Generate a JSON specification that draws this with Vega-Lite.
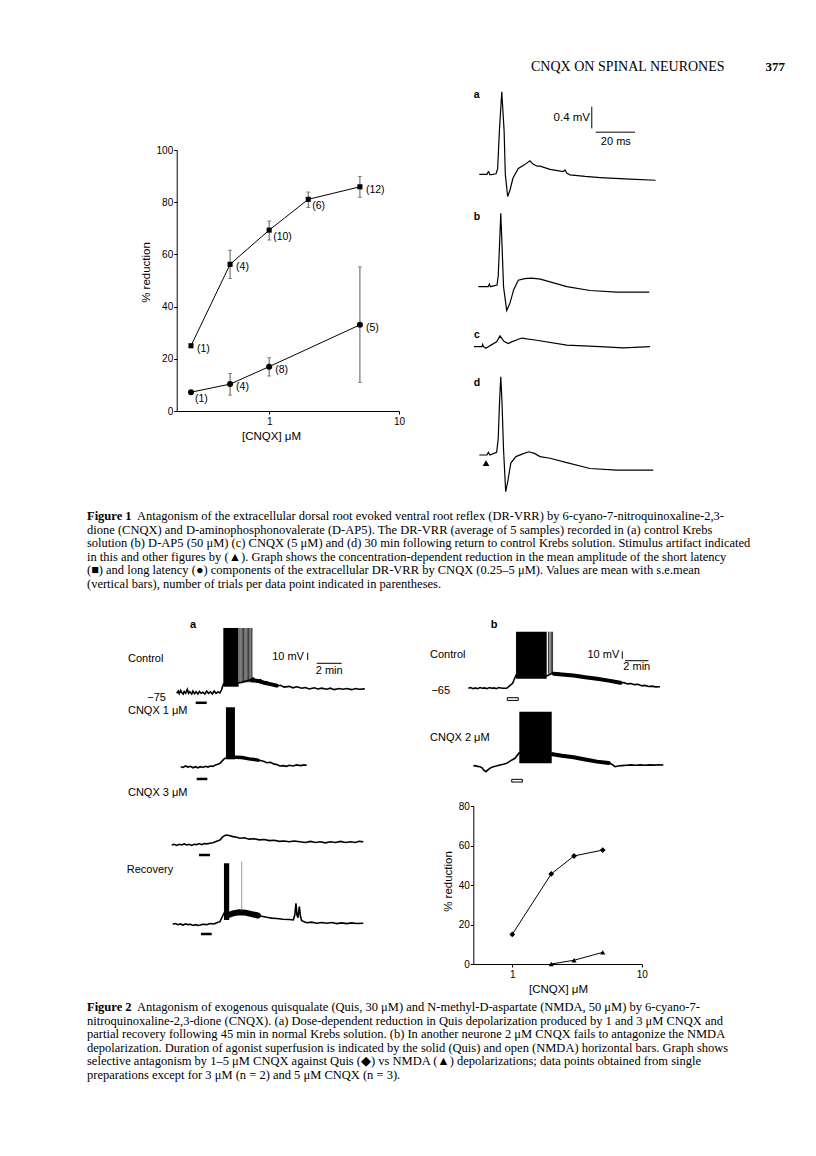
{
"$schema":"https://vega.github.io/schema/vega-lite/v6.json",
"width":816,"height":1156,"autosize":"none","padding":0,"background":"white",
"config":{"view":{"stroke":null},"axis":{"grid":false,"domainColor":"black","tickColor":"black","labelColor":"black","titleColor":"black","labelFont":"Liberation Sans","titleFont":"Liberation Sans","titleFontWeight":"normal","labelFontSize":10,"titleFontSize":11.5,"tickSize":3,"labelPadding":2},"text":{"font":"Liberation Sans","color":"black","baseline":"middle"}},
"datasets":{
"hdr":[{"part":"running","text":"CNQX ON SPINAL NEURONES"},{"part":"page","text":"377"}],
"f1":[
{"series":"short","conc":0.25,"pct":25,"lo":null,"hi":null,"n":"(1)"},
{"series":"short","conc":0.5,"pct":56.2,"lo":50.8,"hi":61.6,"n":"(4)"},
{"series":"short","conc":1,"pct":69.3,"lo":65.5,"hi":72.8,"n":"(10)"},
{"series":"short","conc":2,"pct":81.1,"lo":78,"hi":83.9,"n":"(6)"},
{"series":"short","conc":5,"pct":85.9,"lo":81.9,"hi":89.8,"n":"(12)"},
{"series":"long","conc":0.25,"pct":7.2,"lo":null,"hi":null,"n":"(1)"},
{"series":"long","conc":0.5,"pct":10.3,"lo":6.1,"hi":14.4,"n":"(4)"},
{"series":"long","conc":1,"pct":17,"lo":13.4,"hi":20.4,"n":"(8)"},
{"series":"long","conc":5,"pct":33,"lo":11,"hi":55.2,"n":"(5)"}],
"f2":[
{"series":"quis","conc":1,"pct":15},{"series":"quis","conc":2,"pct":45.6},{"series":"quis","conc":3,"pct":54.7},{"series":"quis","conc":5,"pct":57.7},
{"series":"nmda","conc":2,"pct":0},{"series":"nmda","conc":3,"pct":1.9},{"series":"nmda","conc":5,"pct":5.9}],
"f1tr":[
{"trace":"a","t":0,"v":0},{"trace":"a","t":3.9,"v":0},{"trace":"a","t":4.6,"v":0.05},{"trace":"a","t":4.9,"v":0.04},{"trace":"a","t":5.4,"v":-0.01},{"trace":"a","t":8.5,"v":0.01},{"trace":"a","t":9.3,"v":0.1},{"trace":"a","t":10.2,"v":0.8},{"trace":"a","t":11.4,"v":1.53},{"trace":"a","t":12.6,"v":0.8},{"trace":"a","t":13.2,"v":0.0},{"trace":"a","t":14.4,"v":-0.41},{"trace":"a","t":15.6,"v":-0.29},{"trace":"a","t":17.1,"v":-0.07},{"trace":"a","t":19.8,"v":0.11},{"trace":"a","t":22.7,"v":0.17},{"trace":"a","t":25.7,"v":0.25},{"trace":"a","t":27.2,"v":0.19},{"trace":"a","t":29.4,"v":0.15},{"trace":"a","t":30.8,"v":0.15},{"trace":"a","t":35.9,"v":0.09},{"trace":"a","t":42.6,"v":0.05},{"trace":"a","t":43.5,"v":0.08},{"trace":"a","t":44.5,"v":0.02},{"trace":"a","t":46,"v":-0.01},{"trace":"a","t":53.7,"v":-0.04},{"trace":"a","t":61.3,"v":-0.06},{"trace":"a","t":76.5,"v":-0.09},{"trace":"a","t":89.5,"v":-0.11},
{"trace":"b","t":-0.5,"v":0},{"trace":"b","t":4.5,"v":0},{"trace":"b","t":5.1,"v":0.05},{"trace":"b","t":5.6,"v":0},{"trace":"b","t":9.0,"v":0.03},{"trace":"b","t":9.6,"v":0.2},{"trace":"b","t":10.3,"v":0.8},{"trace":"b","t":10.9,"v":1.36},{"trace":"b","t":11.5,"v":0.8},{"trace":"b","t":12.3,"v":0},{"trace":"b","t":13.9,"v":-0.44},{"trace":"b","t":15.6,"v":-0.3},{"trace":"b","t":17.5,"v":-0.05},{"trace":"b","t":19.8,"v":0.12},{"trace":"b","t":23,"v":0.15},{"trace":"b","t":26.6,"v":0.16},{"trace":"b","t":31,"v":0.14},{"trace":"b","t":35.9,"v":0.09},{"trace":"b","t":44.4,"v":0},{"trace":"b","t":56.2,"v":-0.07},{"trace":"b","t":69.7,"v":-0.1},{"trace":"b","t":86.3,"v":-0.1},
{"trace":"c","t":-2.7,"v":0},{"trace":"c","t":1.4,"v":0},{"trace":"c","t":1.7,"v":0.04},{"trace":"c","t":2.1,"v":0},{"trace":"c","t":3.4,"v":-0.03},{"trace":"c","t":5.5,"v":0.02},{"trace":"c","t":8.8,"v":0.09},{"trace":"c","t":10.5,"v":0.2},{"trace":"c","t":12.5,"v":0.1},{"trace":"c","t":14.7,"v":0.06},{"trace":"c","t":16.4,"v":0.09},{"trace":"c","t":21.5,"v":0.16},{"trace":"c","t":29.1,"v":0.12},{"trace":"c","t":44.4,"v":0.03},{"trace":"c","t":61.3,"v":0},{"trace":"c","t":73.1,"v":-0.02},{"trace":"c","t":86.6,"v":0},
{"trace":"d","t":0,"v":0},{"trace":"d","t":3.9,"v":0},{"trace":"d","t":4.6,"v":0.05},{"trace":"d","t":4.9,"v":0.03},{"trace":"d","t":5.4,"v":0},{"trace":"d","t":8.8,"v":0.05},{"trace":"d","t":9.6,"v":0.3},{"trace":"d","t":10.3,"v":1.0},{"trace":"d","t":10.9,"v":1.45},{"trace":"d","t":11.5,"v":1.0},{"trace":"d","t":12.3,"v":0.1},{"trace":"d","t":13.4,"v":-0.68},{"trace":"d","t":14.4,"v":-0.5},{"trace":"d","t":16,"v":-0.15},{"trace":"d","t":18.6,"v":-0.03},{"trace":"d","t":22,"v":0.02},{"trace":"d","t":25.1,"v":0.06},{"trace":"d","t":28,"v":0.03},{"trace":"d","t":30.8,"v":-0.03},{"trace":"d","t":35.9,"v":-0.06},{"trace":"d","t":44.4,"v":-0.14},{"trace":"d","t":56.2,"v":-0.25},{"trace":"d","t":69.7,"v":-0.28},{"trace":"d","t":88.3,"v":-0.28}],
"f1lab":[
{"trace":"a","role":"panel","t":-1.3,"v":1.47,"text":"a"},{"trace":"b","role":"panel","t":-1.2,"v":1.3,"text":"b"},{"trace":"c","role":"panel","t":-1.2,"v":0.22,"text":"c"},{"trace":"d","role":"panel","t":-1.2,"v":1.33,"text":"d"},
{"trace":"a","role":"scaleV","t":56.2,"v":1.04,"text":"0.4 mV"},{"trace":"a","role":"scaleT","t":69.3,"v":0.6,"text":"20 ms"}],
"f1sb":[{"trace":"a","t1":57.1,"t2":57.1,"v1":0.85,"v2":1.25},{"trace":"a","t1":59.1,"t2":79.0,"v1":0.78,"v2":0.78}],
"f1art":[{"trace":"d","t":3.4,"v":-0.15}],
"cap1":[
{"line":1,"part":"head","text":"Figure 1"},
{"line":1,"part":"body","text":"Antagonism of the extracellular dorsal root evoked ventral root reflex (DR-VRR) by 6-cyano-7-nitroquinoxaline-2,3-"},
{"line":2,"part":"body","text":"dione (CNQX) and D-aminophosphonovalerate (D-AP5). The DR-VRR (average of 5 samples) recorded in (a) control Krebs"},
{"line":3,"part":"body","text":"solution (b) D-AP5 (50 μM) (c) CNQX (5 μM) and (d) 30 min following return to control Krebs solution. Stimulus artifact indicated"},
{"line":4,"part":"body","text":"in this and other figures by (▲). Graph shows the concentration-dependent reduction in the mean amplitude of the short latency"},
{"line":5,"part":"body","text":"(■) and long latency (●) components of the extracellular DR-VRR by CNQX (0.25–5 μM). Values are mean with s.e.mean"},
{"line":6,"part":"body","text":"(vertical bars), number of trials per data point indicated in parentheses."}],
"cap2":[
{"line":1,"part":"head","text":"Figure 2"},
{"line":1,"part":"body","text":"Antagonism of exogenous quisqualate (Quis, 30 μM) and N-methyl-D-aspartate (NMDA, 50 μM) by 6-cyano-7-"},
{"line":2,"part":"body","text":"nitroquinoxaline-2,3-dione (CNQX). (a) Dose-dependent reduction in Quis depolarization produced by 1 and 3 μM CNQX and"},
{"line":3,"part":"body","text":"partial recovery following 45 min in normal Krebs solution. (b) In another neurone 2 μM CNQX fails to antagonize the NMDA"},
{"line":4,"part":"body","text":"depolarization. Duration of agonist superfusion is indicated by the solid (Quis) and open (NMDA) horizontal bars. Graph shows"},
{"line":5,"part":"body","text":"selective antagonism by 1–5 μM CNQX against Quis (◆) vs NMDA (▲) depolarizations; data points obtained from single"},
{"line":6,"part":"body","text":"preparations except for 3 μM (n = 2) and 5 μM CNQX (n = 3)."}],
"f2tr":[
{"trace":"ctrlA","t":0,"v":-75},{"trace":"ctrlA","t":0.12,"v":-72},{"trace":"ctrlA","t":0.2,"v":-75.5},{"trace":"ctrlA","t":0.32,"v":-71},{"trace":"ctrlA","t":0.4,"v":-74},{"trace":"ctrlA","t":0.52,"v":-76},{"trace":"ctrlA","t":0.6,"v":-72.5},{"trace":"ctrlA","t":0.72,"v":-75},{"trace":"ctrlA","t":0.85,"v":-69.5},{"trace":"ctrlA","t":0.95,"v":-75},{"trace":"ctrlA","t":1.05,"v":-73},{"trace":"ctrlA","t":1.2,"v":-76},{"trace":"ctrlA","t":1.3,"v":-72},{"trace":"ctrlA","t":1.42,"v":-75.5},{"trace":"ctrlA","t":1.55,"v":-73},{"trace":"ctrlA","t":1.7,"v":-76},{"trace":"ctrlA","t":1.82,"v":-72.5},{"trace":"ctrlA","t":1.95,"v":-75},{"trace":"ctrlA","t":2.1,"v":-73.5},{"trace":"ctrlA","t":2.25,"v":-76},{"trace":"ctrlA","t":2.4,"v":-72},{"trace":"ctrlA","t":2.55,"v":-75},{"trace":"ctrlA","t":2.7,"v":-73},{"trace":"ctrlA","t":2.85,"v":-76},{"trace":"ctrlA","t":3.0,"v":-72},{"trace":"ctrlA","t":3.15,"v":-75},{"trace":"ctrlA","t":3.3,"v":-73},{"trace":"ctrlA","t":3.45,"v":-74.5},{"trace":"ctrlA","t":3.58,"v":-70.5},{"trace":"ctrlA","t":3.7,"v":-64},{"trace":"ctrlA","t":3.75,"v":-62},{"trace":"ctrlA","t":4.5,"v":-62},{"trace":"ctrlA","t":5.2,"v":-60},{"trace":"ctrlA","t":5.6,"v":-58},{"trace":"ctrlA","t":6.0,"v":-56},{"trace":"ctrlA","t":6.1,"v":-54},{"trace":"ctrlA","t":6.3,"v":-57},{"trace":"ctrlA","t":6.5,"v":-58},{"trace":"ctrlA","t":6.7,"v":-56.5},{"trace":"ctrlA","t":7.0,"v":-61},{"trace":"ctrlA","t":7.2,"v":-59.5},{"trace":"ctrlA","t":7.5,"v":-63.5},{"trace":"ctrlA","t":7.8,"v":-62},{"trace":"ctrlA","t":8.0,"v":-65},{"trace":"ctrlA","t":8.3,"v":-64},{"trace":"ctrlA","t":8.6,"v":-66.5},{"trace":"ctrlA","t":9.0,"v":-65.5},{"trace":"ctrlA","t":9.3,"v":-67.5},{"trace":"ctrlA","t":9.6,"v":-66},{"trace":"ctrlA","t":10.0,"v":-68},{"trace":"ctrlA","t":10.3,"v":-67},{"trace":"ctrlA","t":10.6,"v":-69},{"trace":"ctrlA","t":11.0,"v":-67.5},{"trace":"ctrlA","t":11.3,"v":-69},{"trace":"ctrlA","t":11.6,"v":-68},{"trace":"ctrlA","t":12.0,"v":-69.5},{"trace":"ctrlA","t":12.3,"v":-68},{"trace":"ctrlA","t":12.6,"v":-70},{"trace":"ctrlA","t":13.0,"v":-68.5},{"trace":"ctrlA","t":13.3,"v":-69.5},{"trace":"ctrlA","t":13.6,"v":-68.5},{"trace":"ctrlA","t":14.0,"v":-70},{"trace":"ctrlA","t":14.3,"v":-68.5},{"trace":"ctrlA","t":14.6,"v":-69.5},{"trace":"ctrlA","t":15.05,"v":-69},
{"trace":"cnqx1","t":0.32,"v":-75},{"trace":"cnqx1","t":0.5,"v":-76},{"trace":"cnqx1","t":0.7,"v":-74},{"trace":"cnqx1","t":0.9,"v":-75.5},{"trace":"cnqx1","t":1.1,"v":-74.5},{"trace":"cnqx1","t":1.3,"v":-76.5},{"trace":"cnqx1","t":1.5,"v":-75},{"trace":"cnqx1","t":1.7,"v":-76.5},{"trace":"cnqx1","t":1.9,"v":-75},{"trace":"cnqx1","t":2.1,"v":-76},{"trace":"cnqx1","t":2.3,"v":-74.5},{"trace":"cnqx1","t":2.5,"v":-75.5},{"trace":"cnqx1","t":2.7,"v":-74},{"trace":"cnqx1","t":2.9,"v":-74.5},{"trace":"cnqx1","t":3.1,"v":-72.5},{"trace":"cnqx1","t":3.3,"v":-71.5},{"trace":"cnqx1","t":3.46,"v":-70.3},{"trace":"cnqx1","t":3.7,"v":-66},{"trace":"cnqx1","t":3.86,"v":-63.4},{"trace":"cnqx1","t":4.2,"v":-63},{"trace":"cnqx1","t":4.66,"v":-62},{"trace":"cnqx1","t":4.8,"v":-61.3},{"trace":"cnqx1","t":5.0,"v":-62.5},{"trace":"cnqx1","t":5.3,"v":-61.5},{"trace":"cnqx1","t":5.6,"v":-63.5},{"trace":"cnqx1","t":5.86,"v":-64.9},{"trace":"cnqx1","t":6.1,"v":-64},{"trace":"cnqx1","t":6.4,"v":-66},{"trace":"cnqx1","t":6.7,"v":-66.5},{"trace":"cnqx1","t":7.0,"v":-68},{"trace":"cnqx1","t":7.2,"v":-69.5},{"trace":"cnqx1","t":7.5,"v":-69},{"trace":"cnqx1","t":7.8,"v":-71.5},{"trace":"cnqx1","t":8.0,"v":-72},{"trace":"cnqx1","t":8.26,"v":-74},{"trace":"cnqx1","t":8.5,"v":-73.5},{"trace":"cnqx1","t":8.8,"v":-74.5},{"trace":"cnqx1","t":9.0,"v":-73},{"trace":"cnqx1","t":9.3,"v":-74},{"trace":"cnqx1","t":9.6,"v":-72.5},{"trace":"cnqx1","t":9.9,"v":-73.5},{"trace":"cnqx1","t":10.2,"v":-72.5},{"trace":"cnqx1","t":10.4,"v":-73},
{"trace":"cnqx3","t":-0.4,"v":-75},{"trace":"cnqx3","t":-0.2,"v":-74},{"trace":"cnqx3","t":0,"v":-75.5},{"trace":"cnqx3","t":0.2,"v":-74},{"trace":"cnqx3","t":0.4,"v":-75},{"trace":"cnqx3","t":0.6,"v":-73.5},{"trace":"cnqx3","t":0.8,"v":-75},{"trace":"cnqx3","t":1.0,"v":-74},{"trace":"cnqx3","t":1.2,"v":-75.5},{"trace":"cnqx3","t":1.4,"v":-74},{"trace":"cnqx3","t":1.6,"v":-74.5},{"trace":"cnqx3","t":1.8,"v":-73},{"trace":"cnqx3","t":2.0,"v":-74.5},{"trace":"cnqx3","t":2.2,"v":-73},{"trace":"cnqx3","t":2.4,"v":-73.5},{"trace":"cnqx3","t":2.66,"v":-72.7},{"trace":"cnqx3","t":2.9,"v":-72},{"trace":"cnqx3","t":3.2,"v":-70},{"trace":"cnqx3","t":3.46,"v":-68.2},{"trace":"cnqx3","t":3.7,"v":-63.5},{"trace":"cnqx3","t":3.94,"v":-61.3},{"trace":"cnqx3","t":4.2,"v":-62},{"trace":"cnqx3","t":4.5,"v":-63.5},{"trace":"cnqx3","t":4.8,"v":-64.5},{"trace":"cnqx3","t":5.06,"v":-65.8},{"trace":"cnqx3","t":5.4,"v":-65},{"trace":"cnqx3","t":5.8,"v":-67},{"trace":"cnqx3","t":6.2,"v":-66.5},{"trace":"cnqx3","t":6.6,"v":-68},{"trace":"cnqx3","t":7.0,"v":-67.5},{"trace":"cnqx3","t":7.4,"v":-69},{"trace":"cnqx3","t":7.8,"v":-68.5},{"trace":"cnqx3","t":8.2,"v":-70},{"trace":"cnqx3","t":8.6,"v":-69.5},{"trace":"cnqx3","t":9.0,"v":-70.5},{"trace":"cnqx3","t":9.4,"v":-69.5},{"trace":"cnqx3","t":9.86,"v":-70.5},{"trace":"cnqx3","t":10.3,"v":-71.5},{"trace":"cnqx3","t":10.7,"v":-70},{"trace":"cnqx3","t":11.1,"v":-71.5},{"trace":"cnqx3","t":11.5,"v":-70.5},{"trace":"cnqx3","t":11.9,"v":-72},{"trace":"cnqx3","t":12.3,"v":-70.5},{"trace":"cnqx3","t":12.7,"v":-71.5},{"trace":"cnqx3","t":13.1,"v":-70},{"trace":"cnqx3","t":13.5,"v":-71.5},{"trace":"cnqx3","t":13.9,"v":-70.5},{"trace":"cnqx3","t":14.3,"v":-71.5},{"trace":"cnqx3","t":14.6,"v":-70},{"trace":"cnqx3","t":14.93,"v":-70.5},
{"trace":"recov","t":-0.32,"v":-75},{"trace":"recov","t":-0.1,"v":-74},{"trace":"recov","t":0.1,"v":-75.5},{"trace":"recov","t":0.3,"v":-74.5},{"trace":"recov","t":0.5,"v":-76},{"trace":"recov","t":0.7,"v":-74.5},{"trace":"recov","t":0.9,"v":-75.5},{"trace":"recov","t":1.1,"v":-75},{"trace":"recov","t":1.3,"v":-76.5},{"trace":"recov","t":1.5,"v":-75.5},{"trace":"recov","t":1.7,"v":-76.5},{"trace":"recov","t":1.86,"v":-76},{"trace":"recov","t":2.1,"v":-75},{"trace":"recov","t":2.4,"v":-75.5},{"trace":"recov","t":2.7,"v":-74},{"trace":"recov","t":3.0,"v":-74.5},{"trace":"recov","t":3.2,"v":-73},{"trace":"recov","t":3.46,"v":-71.4},{"trace":"recov","t":3.78,"v":-59.9},{"trace":"recov","t":4.0,"v":-62},{"trace":"recov","t":4.2,"v":-64},{"trace":"recov","t":4.53,"v":-59.9},{"trace":"recov","t":4.8,"v":-58.5},{"trace":"recov","t":5.0,"v":-57.5},{"trace":"recov","t":5.33,"v":-57.7},{"trace":"recov","t":5.6,"v":-59},{"trace":"recov","t":6.0,"v":-60.5},{"trace":"recov","t":6.4,"v":-62.3},{"trace":"recov","t":6.8,"v":-64},{"trace":"recov","t":7.2,"v":-65.4},{"trace":"recov","t":7.6,"v":-66.5},{"trace":"recov","t":8.0,"v":-67},{"trace":"recov","t":8.5,"v":-68},{"trace":"recov","t":9.0,"v":-68.5},{"trace":"recov","t":9.33,"v":-69.1},{"trace":"recov","t":9.45,"v":-62},{"trace":"recov","t":9.54,"v":-46.2},{"trace":"recov","t":9.62,"v":-62},{"trace":"recov","t":9.7,"v":-66},{"trace":"recov","t":9.81,"v":-50.9},{"trace":"recov","t":9.9,"v":-64},{"trace":"recov","t":10.0,"v":-70},{"trace":"recov","t":10.4,"v":-72.8},{"trace":"recov","t":10.8,"v":-72},{"trace":"recov","t":11.2,"v":-73.5},{"trace":"recov","t":11.6,"v":-72.5},{"trace":"recov","t":12.0,"v":-73.5},{"trace":"recov","t":12.4,"v":-72.5},{"trace":"recov","t":12.8,"v":-74},{"trace":"recov","t":13.2,"v":-73},{"trace":"recov","t":13.6,"v":-74},{"trace":"recov","t":14.0,"v":-73},{"trace":"recov","t":14.4,"v":-74},{"trace":"recov","t":14.93,"v":-73.6},
{"trace":"ctrlB","t":0,"v":-65},{"trace":"ctrlB","t":0.2,"v":-64},{"trace":"ctrlB","t":0.4,"v":-65.5},{"trace":"ctrlB","t":0.6,"v":-64.5},{"trace":"ctrlB","t":0.8,"v":-65.5},{"trace":"ctrlB","t":1.0,"v":-64},{"trace":"ctrlB","t":1.2,"v":-65},{"trace":"ctrlB","t":1.4,"v":-64.5},{"trace":"ctrlB","t":1.6,"v":-65.5},{"trace":"ctrlB","t":1.8,"v":-64},{"trace":"ctrlB","t":2.0,"v":-65},{"trace":"ctrlB","t":2.2,"v":-64.5},{"trace":"ctrlB","t":2.4,"v":-65.5},{"trace":"ctrlB","t":2.6,"v":-64},{"trace":"ctrlB","t":2.8,"v":-64.5},{"trace":"ctrlB","t":3.0,"v":-65},{"trace":"ctrlB","t":3.28,"v":-65},{"trace":"ctrlB","t":3.5,"v":-62},{"trace":"ctrlB","t":3.79,"v":-58.2},{"trace":"ctrlB","t":4.08,"v":-46.8},{"trace":"ctrlB","t":6.7,"v":-48},{"trace":"ctrlB","t":7.26,"v":-43.6},{"trace":"ctrlB","t":7.5,"v":-46},{"trace":"ctrlB","t":7.8,"v":-44.5},{"trace":"ctrlB","t":8.1,"v":-47},{"trace":"ctrlB","t":8.4,"v":-45.5},{"trace":"ctrlB","t":8.7,"v":-48},{"trace":"ctrlB","t":9.0,"v":-46.5},{"trace":"ctrlB","t":9.3,"v":-49},{"trace":"ctrlB","t":9.6,"v":-47.5},{"trace":"ctrlB","t":9.83,"v":-49.1},{"trace":"ctrlB","t":10.1,"v":-50.5},{"trace":"ctrlB","t":10.4,"v":-49.5},{"trace":"ctrlB","t":10.7,"v":-52},{"trace":"ctrlB","t":11.0,"v":-51},{"trace":"ctrlB","t":11.3,"v":-53.5},{"trace":"ctrlB","t":11.6,"v":-52.5},{"trace":"ctrlB","t":11.9,"v":-55},{"trace":"ctrlB","t":12.2,"v":-54},{"trace":"ctrlB","t":12.5,"v":-56.5},{"trace":"ctrlB","t":12.68,"v":-56},{"trace":"ctrlB","t":13.0,"v":-57.5},{"trace":"ctrlB","t":13.3,"v":-57},{"trace":"ctrlB","t":13.6,"v":-59},{"trace":"ctrlB","t":13.9,"v":-58.5},{"trace":"ctrlB","t":14.2,"v":-60},{"trace":"ctrlB","t":14.5,"v":-59.5},{"trace":"ctrlB","t":14.8,"v":-61.5},{"trace":"ctrlB","t":15.1,"v":-61},{"trace":"ctrlB","t":15.4,"v":-62.5},{"trace":"ctrlB","t":15.7,"v":-62},{"trace":"ctrlB","t":16.0,"v":-63},{"trace":"ctrlB","t":16.38,"v":-62.8},
{"trace":"cnqx2","t":0.43,"v":-65},{"trace":"cnqx2","t":0.6,"v":-64.5},{"trace":"cnqx2","t":0.8,"v":-65.5},{"trace":"cnqx2","t":1.0,"v":-65.9},{"trace":"cnqx2","t":1.2,"v":-68},{"trace":"cnqx2","t":1.35,"v":-71},{"trace":"cnqx2","t":1.51,"v":-72.8},{"trace":"cnqx2","t":1.7,"v":-70},{"trace":"cnqx2","t":1.9,"v":-67.5},{"trace":"cnqx2","t":2.14,"v":-65.9},{"trace":"cnqx2","t":2.4,"v":-65},{"trace":"cnqx2","t":2.7,"v":-63.5},{"trace":"cnqx2","t":3.0,"v":-62.5},{"trace":"cnqx2","t":3.28,"v":-61.3},{"trace":"cnqx2","t":3.6,"v":-58},{"trace":"cnqx2","t":3.99,"v":-54.4},{"trace":"cnqx2","t":4.36,"v":-46.7},{"trace":"cnqx2","t":7.13,"v":-50},{"trace":"cnqx2","t":7.26,"v":-47.6},{"trace":"cnqx2","t":7.5,"v":-50},{"trace":"cnqx2","t":7.8,"v":-49.5},{"trace":"cnqx2","t":8.1,"v":-51.5},{"trace":"cnqx2","t":8.41,"v":-51.3},{"trace":"cnqx2","t":8.7,"v":-53},{"trace":"cnqx2","t":9.0,"v":-52.5},{"trace":"cnqx2","t":9.3,"v":-54.5},{"trace":"cnqx2","t":9.6,"v":-54},{"trace":"cnqx2","t":9.9,"v":-56},{"trace":"cnqx2","t":10.12,"v":-56.8},{"trace":"cnqx2","t":10.4,"v":-57.5},{"trace":"cnqx2","t":10.7,"v":-58.5},{"trace":"cnqx2","t":11.0,"v":-59},{"trace":"cnqx2","t":11.3,"v":-59.5},{"trace":"cnqx2","t":11.6,"v":-60.5},{"trace":"cnqx2","t":11.9,"v":-61},{"trace":"cnqx2","t":12.1,"v":-61.3},{"trace":"cnqx2","t":12.3,"v":-63},{"trace":"cnqx2","t":12.54,"v":-65.9},{"trace":"cnqx2","t":12.8,"v":-65},{"trace":"cnqx2","t":13.1,"v":-64.5},{"trace":"cnqx2","t":13.5,"v":-64},{"trace":"cnqx2","t":13.9,"v":-63.5},{"trace":"cnqx2","t":14.3,"v":-64},{"trace":"cnqx2","t":14.7,"v":-63.5},{"trace":"cnqx2","t":15.1,"v":-64},{"trace":"cnqx2","t":15.5,"v":-63.5},{"trace":"cnqx2","t":15.9,"v":-63.8},{"trace":"cnqx2","t":16.3,"v":-63.2},{"trace":"cnqx2","t":16.67,"v":-63.6}],
"f2thick":[
{"trace":"ctrlA","t":6.0,"v":-57},{"trace":"ctrlA","t":6.5,"v":-58},{"trace":"ctrlA","t":7.0,"v":-60.5},{"trace":"ctrlA","t":7.5,"v":-62.5},{"trace":"ctrlA","t":8.0,"v":-64.5},
{"trace":"cnqx1","t":4.7,"v":-62},{"trace":"cnqx1","t":5.2,"v":-62.3},{"trace":"cnqx1","t":5.8,"v":-64.3},{"trace":"cnqx1","t":6.5,"v":-66},
{"trace":"recov","t":4.2,"v":-62},{"trace":"recov","t":4.5,"v":-60},{"trace":"recov","t":5.0,"v":-58.5},{"trace":"recov","t":5.5,"v":-59},{"trace":"recov","t":6.0,"v":-61},{"trace":"recov","t":6.5,"v":-63},
{"trace":"ctrlB","t":7.3,"v":-45},{"trace":"ctrlB","t":8,"v":-46},{"trace":"ctrlB","t":9,"v":-47.5},{"trace":"ctrlB","t":10,"v":-50},{"trace":"ctrlB","t":11,"v":-52},{"trace":"ctrlB","t":12,"v":-54.5},{"trace":"ctrlB","t":13,"v":-57.5},
{"trace":"cnqx2","t":7.2,"v":-49},{"trace":"cnqx2","t":8,"v":-51},{"trace":"cnqx2","t":9,"v":-53},{"trace":"cnqx2","t":10,"v":-56},{"trace":"cnqx2","t":11,"v":-59},{"trace":"cnqx2","t":12,"v":-61}],
"f2burst":[
{"trace":"ctrlA","t1":3.73,"t2":4.95,"v1":-66,"v2":14.5},
{"trace":"cnqx1","t1":3.94,"t2":4.66,"v1":-64.9,"v2":6.4},
{"trace":"recov","t1":3.78,"t2":4.2,"v1":-69.1,"v2":8.6},
{"trace":"ctrlB","t1":4.08,"t2":6.7,"v1":-52,"v2":12.5},
{"trace":"cnqx2","t1":4.36,"t2":7.13,"v1":-61.3,"v2":9.4}],
"f2spk":[
{"trace":"ctrlA","t":5.05,"v1":-60,"v2":14.5},{"trace":"ctrlA","t":5.15,"v1":-60,"v2":14.5},{"trace":"ctrlA","t":5.25,"v1":-60,"v2":14.5},{"trace":"ctrlA","t":5.35,"v1":-60,"v2":14.5},{"trace":"ctrlA","t":5.45,"v1":-60,"v2":14.5},{"trace":"ctrlA","t":5.55,"v1":-60,"v2":14.5},{"trace":"ctrlA","t":5.65,"v1":-60,"v2":14.5},{"trace":"ctrlA","t":5.75,"v1":-60,"v2":14.5},{"trace":"ctrlA","t":5.85,"v1":-60,"v2":14.5},{"trace":"ctrlA","t":5.95,"v1":-60,"v2":14.5},{"trace":"ctrlA","t":6.02,"v1":-60,"v2":14.5},
{"trace":"recov","t":5.2,"v1":-57,"v2":10.8},
{"trace":"ctrlB","t":6.85,"v1":-45,"v2":12.5},{"trace":"ctrlB","t":6.98,"v1":-45,"v2":12.5},{"trace":"ctrlB","t":7.1,"v1":-45,"v2":12.5},{"trace":"ctrlB","t":7.2,"v1":-45,"v2":12.5}],
"f2bar":[
{"trace":"ctrlA","t1":1.52,"t2":2.4,"v":-88},{"trace":"cnqx1","t1":1.6,"t2":2.45,"v":-91.8},{"trace":"cnqx3","t1":1.78,"t2":2.66,"v":-88.7},{"trace":"recov","t1":1.94,"t2":2.8,"v":-88.3}],
"f2open":[
{"trace":"ctrlB","t1":3.33,"t2":4.27,"v1":-77.9,"v2":-81.6},{"trace":"cnqx2","t1":3.71,"t2":4.62,"v1":-83.3,"v2":-87}],
"f2sb":[
{"trace":"ctrlA","t1":10.48,"t2":10.48,"v1":-29.4,"v2":-19.4},{"trace":"ctrlA","t1":11.2,"t2":13.2,"v1":-33.9,"v2":-33.9},
{"trace":"ctrlB","t1":13.16,"t2":13.16,"v1":-24.4,"v2":-14.4},{"trace":"ctrlB","t1":13.4,"t2":15.4,"v1":-27.2,"v2":-27.2}],
"f2lab":[
{"trace":"ctrlA","role":"name","t":-3.9,"v":-28,"text":"Control"},
{"trace":"ctrlA","role":"vm","t":-0.86,"v":-81.8,"text":"−75"},
{"trace":"ctrlA","role":"panel","t":1.3,"v":18.6,"text":"a"},
{"trace":"ctrlA","role":"scaleV","t":10.18,"v":-24.9,"text":"10 mV"},
{"trace":"ctrlA","role":"scaleT","t":12.2,"v":-44.5,"text":"2 min"},
{"trace":"cnqx1","role":"name","t":-3.9,"v":1.7,"text":"CNQX 1 μM"},
{"trace":"cnqx3","role":"name","t":-3.9,"v":-4.2,"text":"CNQX 3 μM"},
{"trace":"recov","role":"name","t":-4.0,"v":-0.6,"text":"Recovery"},
{"trace":"ctrlB","role":"name","t":-3.27,"v":-19.4,"text":"Control"},
{"trace":"ctrlB","role":"vm","t":-1.56,"v":-68.3,"text":"−65"},
{"trace":"ctrlB","role":"panel","t":2.2,"v":21.7,"text":"b"},
{"trace":"ctrlB","role":"scaleV","t":12.9,"v":-19.4,"text":"10 mV"},
{"trace":"ctrlB","role":"scaleT","t":14.4,"v":-36.2,"text":"2 min"},
{"trace":"cnqx2","role":"name","t":-3.27,"v":-27,"text":"CNQX 2 μM"}]
},
"layer":[
{"data":{"name":"hdr"},"layer":[
 {"transform":[{"filter":"datum.part==='running'"}],"mark":{"type":"text","align":"left","font":"Liberation Serif","fontSize":14},"encoding":{"x":{"datum":0,"type":"quantitative","scale":{"domain":[0,1],"range":[531,785]},"axis":null},"y":{"datum":0,"type":"quantitative","scale":{"domain":[0,1],"range":[67,1156]},"axis":null},"text":{"field":"text"}}},
 {"transform":[{"filter":"datum.part==='page'"}],"mark":{"type":"text","align":"right","font":"Liberation Serif","fontSize":13,"fontWeight":"bold"},"encoding":{"x":{"datum":1,"type":"quantitative","scale":{"domain":[0,1],"range":[531,785]},"axis":null},"y":{"datum":0,"type":"quantitative","scale":{"domain":[0,1],"range":[67,1156]},"axis":null},"text":{"field":"text"}}}
]},
{"data":{"name":"f1"},"layer":[
 {"transform":[{"filter":"isValid(datum.lo)"}],"mark":{"type":"errorbar","ticks":{"size":4},"thickness":0.8,"color":"#333"},"encoding":{
  "x":{"field":"conc","type":"quantitative","scale":{"type":"log","domain":[0.194,10],"range":[176.7,399],"nice":false},"axis":{"orient":"bottom","offset":-745,"values":[1,10],"format":"~g","labelFlush":false,"title":"[CNQX] μM","titleX":271,"titleY":25,"titleBaseline":"middle"}},
  "y":{"field":"lo","type":"quantitative","scale":{"domain":[0,100],"range":[411,150],"nice":false,"zero":false},"axis":{"orient":"left","offset":-176.7,"values":[0,20,40,60,80,100],"title":"% reduction","titleX":-30,"titleY":272,"titleBaseline":"middle","titleAngle":-90,"labelPadding":1}},
  "y2":{"field":"hi"}}},
 {"mark":{"type":"line","color":"black","strokeWidth":1},"encoding":{
  "x":{"field":"conc","type":"quantitative","scale":{"type":"log","domain":[0.194,10],"range":[176.7,399],"nice":false},"axis":{"orient":"bottom","offset":-745,"values":[1,10],"format":"~g","labelFlush":false,"title":"[CNQX] μM","titleX":271,"titleY":25,"titleBaseline":"middle"}},
  "y":{"field":"pct","type":"quantitative","scale":{"domain":[0,100],"range":[411,150],"nice":false,"zero":false},"axis":{"orient":"left","offset":-176.7,"values":[0,20,40,60,80,100],"title":"% reduction","titleX":-30,"titleY":272,"titleBaseline":"middle","titleAngle":-90,"labelPadding":1}},
  "detail":{"field":"series"}}},
 {"transform":[{"filter":"datum.series==='short'"}],"mark":{"type":"point","shape":"square","filled":true,"color":"black","opacity":1,"size":26},"encoding":{
  "x":{"field":"conc","type":"quantitative","scale":{"type":"log","domain":[0.194,10],"range":[176.7,399],"nice":false}},
  "y":{"field":"pct","type":"quantitative","scale":{"domain":[0,100],"range":[411,150],"nice":false,"zero":false}}}},
 {"transform":[{"filter":"datum.series==='long'"}],"mark":{"type":"point","shape":"circle","filled":true,"color":"black","opacity":1,"size":36},"encoding":{
  "x":{"field":"conc","type":"quantitative","scale":{"type":"log","domain":[0.194,10],"range":[176.7,399],"nice":false}},
  "y":{"field":"pct","type":"quantitative","scale":{"domain":[0,100],"range":[411,150],"nice":false,"zero":false}}}},
 {"transform":[{"filter":"!((datum.series==='short' && (datum.conc===1 || datum.conc===2)) || (datum.series==='long' && datum.conc===0.25))"}],"mark":{"type":"text","align":"left","dx":6,"dy":3,"fontSize":10.5},"encoding":{
  "x":{"field":"conc","type":"quantitative","scale":{"type":"log","domain":[0.194,10],"range":[176.7,399],"nice":false}},
  "y":{"field":"pct","type":"quantitative","scale":{"domain":[0,100],"range":[411,150],"nice":false,"zero":false}},
  "text":{"field":"n"}}},
 {"transform":[{"filter":"(datum.series==='short' && (datum.conc===1 || datum.conc===2)) || (datum.series==='long' && datum.conc===0.25)"}],"mark":{"type":"text","align":"left","dx":4,"dy":7,"fontSize":10.5},"encoding":{
  "x":{"field":"conc","type":"quantitative","scale":{"type":"log","domain":[0.194,10],"range":[176.7,399],"nice":false}},
  "y":{"field":"pct","type":"quantitative","scale":{"domain":[0,100],"range":[411,150],"nice":false,"zero":false}},
  "text":{"field":"n"}}}
]},
{"layer":[
 {"data":{"name":"f1tr"},"transform":[{"filter":"datum.trace==='a'"}],"mark":{"type":"line","color":"black","strokeWidth":1.2},"encoding":{"x":{"field":"t","type":"quantitative","scale":{"domain":[0,100],"range":[479.3,676.3],"nice":false,"zero":false},"axis":null},"y":{"field":"v","type":"quantitative","scale":{"domain":[-1,2],"range":[228.3,66.3],"nice":false,"zero":false},"axis":null}}},
 {"data":{"name":"f1sb"},"mark":{"type":"rule","color":"black","strokeWidth":1},"encoding":{"x":{"field":"t1","type":"quantitative","scale":{"domain":[0,100],"range":[479.3,676.3],"nice":false,"zero":false},"axis":null},"x2":{"field":"t2"},"y":{"field":"v1","type":"quantitative","scale":{"domain":[-1,2],"range":[228.3,66.3],"nice":false,"zero":false},"axis":null},"y2":{"field":"v2"}}},
 {"data":{"name":"f1lab"},"transform":[{"filter":"datum.trace==='a' && datum.role==='panel'"}],"mark":{"type":"text","fontWeight":"bold","fontSize":10.5},"encoding":{"x":{"field":"t","type":"quantitative","scale":{"domain":[0,100],"range":[479.3,676.3],"nice":false,"zero":false},"axis":null},"y":{"field":"v","type":"quantitative","scale":{"domain":[-1,2],"range":[228.3,66.3],"nice":false,"zero":false},"axis":null},"text":{"field":"text"}}},
 {"data":{"name":"f1lab"},"transform":[{"filter":"datum.role==='scaleV'"}],"mark":{"type":"text","align":"right","fontSize":11.5},"encoding":{"x":{"field":"t","type":"quantitative","scale":{"domain":[0,100],"range":[479.3,676.3],"nice":false,"zero":false},"axis":null},"y":{"field":"v","type":"quantitative","scale":{"domain":[-1,2],"range":[228.3,66.3],"nice":false,"zero":false},"axis":null},"text":{"field":"text"}}},
 {"data":{"name":"f1lab"},"transform":[{"filter":"datum.role==='scaleT'"}],"mark":{"type":"text","fontSize":11},"encoding":{"x":{"field":"t","type":"quantitative","scale":{"domain":[0,100],"range":[479.3,676.3],"nice":false,"zero":false},"axis":null},"y":{"field":"v","type":"quantitative","scale":{"domain":[-1,2],"range":[228.3,66.3],"nice":false,"zero":false},"axis":null},"text":{"field":"text"}}}
]},
{"layer":[
 {"data":{"name":"f1tr"},"transform":[{"filter":"datum.trace==='b'"}],"mark":{"type":"line","color":"black","strokeWidth":1.2},"encoding":{"x":{"field":"t","type":"quantitative","scale":{"domain":[0,100],"range":[479.3,676.3],"nice":false,"zero":false},"axis":null},"y":{"field":"v","type":"quantitative","scale":{"domain":[-1,2],"range":[340.7,178.7],"nice":false,"zero":false},"axis":null}}},
 {"data":{"name":"f1lab"},"transform":[{"filter":"datum.trace==='b' && datum.role==='panel'"}],"mark":{"type":"text","fontWeight":"bold","fontSize":10.5},"encoding":{"x":{"field":"t","type":"quantitative","scale":{"domain":[0,100],"range":[479.3,676.3],"nice":false,"zero":false},"axis":null},"y":{"field":"v","type":"quantitative","scale":{"domain":[-1,2],"range":[340.7,178.7],"nice":false,"zero":false},"axis":null},"text":{"field":"text"}}}
]},
{"layer":[
 {"data":{"name":"f1tr"},"transform":[{"filter":"datum.trace==='c'"}],"mark":{"type":"line","color":"black","strokeWidth":1.2},"encoding":{"x":{"field":"t","type":"quantitative","scale":{"domain":[0,100],"range":[479.3,676.3],"nice":false,"zero":false},"axis":null},"y":{"field":"v","type":"quantitative","scale":{"domain":[-1,2],"range":[400.7,238.7],"nice":false,"zero":false},"axis":null}}},
 {"data":{"name":"f1lab"},"transform":[{"filter":"datum.trace==='c' && datum.role==='panel'"}],"mark":{"type":"text","fontWeight":"bold","fontSize":10.5},"encoding":{"x":{"field":"t","type":"quantitative","scale":{"domain":[0,100],"range":[479.3,676.3],"nice":false,"zero":false},"axis":null},"y":{"field":"v","type":"quantitative","scale":{"domain":[-1,2],"range":[400.7,238.7],"nice":false,"zero":false},"axis":null},"text":{"field":"text"}}}
]},
{"layer":[
 {"data":{"name":"f1tr"},"transform":[{"filter":"datum.trace==='d'"}],"mark":{"type":"line","color":"black","strokeWidth":1.2},"encoding":{"x":{"field":"t","type":"quantitative","scale":{"domain":[0,100],"range":[479.3,676.3],"nice":false,"zero":false},"axis":null},"y":{"field":"v","type":"quantitative","scale":{"domain":[-1,2],"range":[509,347],"nice":false,"zero":false},"axis":null}}},
 {"data":{"name":"f1art"},"mark":{"type":"point","shape":"triangle-up","filled":true,"color":"black","opacity":1,"size":45},"encoding":{"x":{"field":"t","type":"quantitative","scale":{"domain":[0,100],"range":[479.3,676.3],"nice":false,"zero":false},"axis":null},"y":{"field":"v","type":"quantitative","scale":{"domain":[-1,2],"range":[509,347],"nice":false,"zero":false},"axis":null}}},
 {"data":{"name":"f1lab"},"transform":[{"filter":"datum.trace==='d' && datum.role==='panel'"}],"mark":{"type":"text","fontWeight":"bold","fontSize":10.5},"encoding":{"x":{"field":"t","type":"quantitative","scale":{"domain":[0,100],"range":[479.3,676.3],"nice":false,"zero":false},"axis":null},"y":{"field":"v","type":"quantitative","scale":{"domain":[-1,2],"range":[509,347],"nice":false,"zero":false},"axis":null},"text":{"field":"text"}}}
]},
{"data":{"name":"cap1"},"layer":[
 {"transform":[{"filter":"datum.part==='head'"}],"mark":{"type":"text","align":"left","font":"Liberation Serif","fontSize":12.5,"fontWeight":"bold"},"encoding":{"x":{"datum":0,"type":"quantitative","scale":{"domain":[0,1],"range":[87,757]},"axis":null},"y":{"field":"line","type":"quantitative","scale":{"domain":[1,6],"range":[516,584],"nice":false,"zero":false},"axis":null},"text":{"field":"text"}}},
 {"transform":[{"filter":"datum.part==='body' && datum.line===1"}],"mark":{"type":"text","align":"left","font":"Liberation Serif","fontSize":12.5,"dx":50},"encoding":{"x":{"datum":0,"type":"quantitative","scale":{"domain":[0,1],"range":[87,757]},"axis":null},"y":{"field":"line","type":"quantitative","scale":{"domain":[1,6],"range":[516,584],"nice":false,"zero":false},"axis":null},"text":{"field":"text"}}},
 {"transform":[{"filter":"datum.part==='body' && datum.line>1"}],"mark":{"type":"text","align":"left","font":"Liberation Serif","fontSize":12.5},"encoding":{"x":{"datum":0,"type":"quantitative","scale":{"domain":[0,1],"range":[87,757]},"axis":null},"y":{"field":"line","type":"quantitative","scale":{"domain":[1,6],"range":[516,584],"nice":false,"zero":false},"axis":null},"text":{"field":"text"}}}
]},
{"layer":[
 {"data":{"name":"f2tr"},"transform":[{"filter":"datum.trace==='ctrlA'"}],"mark":{"type":"line","color":"black","strokeWidth":1.6},"encoding":{"x":{"field":"t","type":"quantitative","scale":{"domain":[0,16],"range":[176.7,376.7],"nice":false,"zero":false},"axis":null},"y":{"field":"v","type":"quantitative","scale":{"domain":[-100,20],"range":[711.55,623.95],"nice":false,"zero":false},"axis":null}}},
 {"data":{"name":"f2thick"},"transform":[{"filter":"datum.trace==='ctrlA'"}],"mark":{"type":"line","color":"black","strokeWidth":4,"strokeCap":"round"},"encoding":{"x":{"field":"t","type":"quantitative","scale":{"domain":[0,16],"range":[176.7,376.7],"nice":false,"zero":false},"axis":null},"y":{"field":"v","type":"quantitative","scale":{"domain":[-100,20],"range":[711.55,623.95],"nice":false,"zero":false},"axis":null}}},
 {"data":{"name":"f2burst"},"transform":[{"filter":"datum.trace==='ctrlA'"}],"mark":{"type":"rect","color":"black"},"encoding":{"x":{"field":"t1","type":"quantitative","scale":{"domain":[0,16],"range":[176.7,376.7],"nice":false,"zero":false},"axis":null},"x2":{"field":"t2"},"y":{"field":"v1","type":"quantitative","scale":{"domain":[-100,20],"range":[711.55,623.95],"nice":false,"zero":false},"axis":null},"y2":{"field":"v2"}}},
 {"data":{"name":"f2spk"},"transform":[{"filter":"datum.trace==='ctrlA'"}],"mark":{"type":"rule","color":"black","strokeWidth":0.8},"encoding":{"x":{"field":"t","type":"quantitative","scale":{"domain":[0,16],"range":[176.7,376.7],"nice":false,"zero":false},"axis":null},"y":{"field":"v1","type":"quantitative","scale":{"domain":[-100,20],"range":[711.55,623.95],"nice":false,"zero":false},"axis":null},"y2":{"field":"v2"}}},
 {"data":{"name":"f2bar"},"transform":[{"filter":"datum.trace==='ctrlA'"}],"mark":{"type":"rule","color":"black","strokeWidth":2.5},"encoding":{"x":{"field":"t1","type":"quantitative","scale":{"domain":[0,16],"range":[176.7,376.7],"nice":false,"zero":false},"axis":null},"x2":{"field":"t2"},"y":{"field":"v","type":"quantitative","scale":{"domain":[-100,20],"range":[711.55,623.95],"nice":false,"zero":false},"axis":null}}},
 {"data":{"name":"f2sb"},"transform":[{"filter":"datum.trace==='ctrlA'"}],"mark":{"type":"rule","color":"black","strokeWidth":1},"encoding":{"x":{"field":"t1","type":"quantitative","scale":{"domain":[0,16],"range":[176.7,376.7],"nice":false,"zero":false},"axis":null},"x2":{"field":"t2"},"y":{"field":"v1","type":"quantitative","scale":{"domain":[-100,20],"range":[711.55,623.95],"nice":false,"zero":false},"axis":null},"y2":{"field":"v2"}}},
 {"data":{"name":"f2lab"},"transform":[{"filter":"datum.trace==='ctrlA' && datum.role==='name'"}],"mark":{"type":"text","align":"left","fontSize":11},"encoding":{"x":{"field":"t","type":"quantitative","scale":{"domain":[0,16],"range":[176.7,376.7],"nice":false,"zero":false},"axis":null},"y":{"field":"v","type":"quantitative","scale":{"domain":[-100,20],"range":[711.55,623.95],"nice":false,"zero":false},"axis":null},"text":{"field":"text"}}},
 {"data":{"name":"f2lab"},"transform":[{"filter":"datum.trace==='ctrlA' && (datum.role==='vm' || datum.role==='scaleV')"}],"mark":{"type":"text","align":"right","fontSize":11},"encoding":{"x":{"field":"t","type":"quantitative","scale":{"domain":[0,16],"range":[176.7,376.7],"nice":false,"zero":false},"axis":null},"y":{"field":"v","type":"quantitative","scale":{"domain":[-100,20],"range":[711.55,623.95],"nice":false,"zero":false},"axis":null},"text":{"field":"text"}}},
 {"data":{"name":"f2lab"},"transform":[{"filter":"datum.trace==='ctrlA' && datum.role==='scaleT'"}],"mark":{"type":"text","fontSize":11},"encoding":{"x":{"field":"t","type":"quantitative","scale":{"domain":[0,16],"range":[176.7,376.7],"nice":false,"zero":false},"axis":null},"y":{"field":"v","type":"quantitative","scale":{"domain":[-100,20],"range":[711.55,623.95],"nice":false,"zero":false},"axis":null},"text":{"field":"text"}}},
 {"data":{"name":"f2lab"},"transform":[{"filter":"datum.trace==='ctrlA' && datum.role==='panel'"}],"mark":{"type":"text","fontSize":11,"fontWeight":"bold"},"encoding":{"x":{"field":"t","type":"quantitative","scale":{"domain":[0,16],"range":[176.7,376.7],"nice":false,"zero":false},"axis":null},"y":{"field":"v","type":"quantitative","scale":{"domain":[-100,20],"range":[711.55,623.95],"nice":false,"zero":false},"axis":null},"text":{"field":"text"}}}
]},
{"layer":[
 {"data":{"name":"f2tr"},"transform":[{"filter":"datum.trace==='cnqx1'"}],"mark":{"type":"line","color":"black","strokeWidth":1.6},"encoding":{"x":{"field":"t","type":"quantitative","scale":{"domain":[0,16],"range":[176.7,376.7],"nice":false,"zero":false},"axis":null},"y":{"field":"v","type":"quantitative","scale":{"domain":[-100,20],"range":[784.95,697.35],"nice":false,"zero":false},"axis":null}}},
 {"data":{"name":"f2thick"},"transform":[{"filter":"datum.trace==='cnqx1'"}],"mark":{"type":"line","color":"black","strokeWidth":3.5,"strokeCap":"round"},"encoding":{"x":{"field":"t","type":"quantitative","scale":{"domain":[0,16],"range":[176.7,376.7],"nice":false,"zero":false},"axis":null},"y":{"field":"v","type":"quantitative","scale":{"domain":[-100,20],"range":[784.95,697.35],"nice":false,"zero":false},"axis":null}}},
 {"data":{"name":"f2burst"},"transform":[{"filter":"datum.trace==='cnqx1'"}],"mark":{"type":"rect","color":"black"},"encoding":{"x":{"field":"t1","type":"quantitative","scale":{"domain":[0,16],"range":[176.7,376.7],"nice":false,"zero":false},"axis":null},"x2":{"field":"t2"},"y":{"field":"v1","type":"quantitative","scale":{"domain":[-100,20],"range":[784.95,697.35],"nice":false,"zero":false},"axis":null},"y2":{"field":"v2"}}},
 {"data":{"name":"f2bar"},"transform":[{"filter":"datum.trace==='cnqx1'"}],"mark":{"type":"rule","color":"black","strokeWidth":2.5},"encoding":{"x":{"field":"t1","type":"quantitative","scale":{"domain":[0,16],"range":[176.7,376.7],"nice":false,"zero":false},"axis":null},"x2":{"field":"t2"},"y":{"field":"v","type":"quantitative","scale":{"domain":[-100,20],"range":[784.95,697.35],"nice":false,"zero":false},"axis":null}}},
 {"data":{"name":"f2lab"},"transform":[{"filter":"datum.trace==='cnqx1' && datum.role==='name'"}],"mark":{"type":"text","align":"left","fontSize":11},"encoding":{"x":{"field":"t","type":"quantitative","scale":{"domain":[0,16],"range":[176.7,376.7],"nice":false,"zero":false},"axis":null},"y":{"field":"v","type":"quantitative","scale":{"domain":[-100,20],"range":[784.95,697.35],"nice":false,"zero":false},"axis":null},"text":{"field":"text"}}}
]},
{"layer":[
 {"data":{"name":"f2tr"},"transform":[{"filter":"datum.trace==='cnqx3'"}],"mark":{"type":"line","color":"black","strokeWidth":1.6},"encoding":{"x":{"field":"t","type":"quantitative","scale":{"domain":[0,16],"range":[176.7,376.7],"nice":false,"zero":false},"axis":null},"y":{"field":"v","type":"quantitative","scale":{"domain":[-100,20],"range":[863.25,775.65],"nice":false,"zero":false},"axis":null}}},
 {"data":{"name":"f2bar"},"transform":[{"filter":"datum.trace==='cnqx3'"}],"mark":{"type":"rule","color":"black","strokeWidth":2.5},"encoding":{"x":{"field":"t1","type":"quantitative","scale":{"domain":[0,16],"range":[176.7,376.7],"nice":false,"zero":false},"axis":null},"x2":{"field":"t2"},"y":{"field":"v","type":"quantitative","scale":{"domain":[-100,20],"range":[863.25,775.65],"nice":false,"zero":false},"axis":null}}},
 {"data":{"name":"f2lab"},"transform":[{"filter":"datum.trace==='cnqx3' && datum.role==='name'"}],"mark":{"type":"text","align":"left","fontSize":11},"encoding":{"x":{"field":"t","type":"quantitative","scale":{"domain":[0,16],"range":[176.7,376.7],"nice":false,"zero":false},"axis":null},"y":{"field":"v","type":"quantitative","scale":{"domain":[-100,20],"range":[863.25,775.65],"nice":false,"zero":false},"axis":null},"text":{"field":"text"}}}
]},
{"layer":[
 {"data":{"name":"f2tr"},"transform":[{"filter":"datum.trace==='recov'"}],"mark":{"type":"line","color":"black","strokeWidth":1.6},"encoding":{"x":{"field":"t","type":"quantitative","scale":{"domain":[0,16],"range":[176.7,376.7],"nice":false,"zero":false},"axis":null},"y":{"field":"v","type":"quantitative","scale":{"domain":[-100,20],"range":[942.55,854.95],"nice":false,"zero":false},"axis":null}}},
 {"data":{"name":"f2thick"},"transform":[{"filter":"datum.trace==='recov'"}],"mark":{"type":"line","color":"black","strokeWidth":6,"strokeCap":"round"},"encoding":{"x":{"field":"t","type":"quantitative","scale":{"domain":[0,16],"range":[176.7,376.7],"nice":false,"zero":false},"axis":null},"y":{"field":"v","type":"quantitative","scale":{"domain":[-100,20],"range":[942.55,854.95],"nice":false,"zero":false},"axis":null}}},
 {"data":{"name":"f2burst"},"transform":[{"filter":"datum.trace==='recov'"}],"mark":{"type":"rect","color":"black"},"encoding":{"x":{"field":"t1","type":"quantitative","scale":{"domain":[0,16],"range":[176.7,376.7],"nice":false,"zero":false},"axis":null},"x2":{"field":"t2"},"y":{"field":"v1","type":"quantitative","scale":{"domain":[-100,20],"range":[942.55,854.95],"nice":false,"zero":false},"axis":null},"y2":{"field":"v2"}}},
 {"data":{"name":"f2spk"},"transform":[{"filter":"datum.trace==='recov'"}],"mark":{"type":"rule","color":"#555","strokeWidth":0.6},"encoding":{"x":{"field":"t","type":"quantitative","scale":{"domain":[0,16],"range":[176.7,376.7],"nice":false,"zero":false},"axis":null},"y":{"field":"v1","type":"quantitative","scale":{"domain":[-100,20],"range":[942.55,854.95],"nice":false,"zero":false},"axis":null},"y2":{"field":"v2"}}},
 {"data":{"name":"f2bar"},"transform":[{"filter":"datum.trace==='recov'"}],"mark":{"type":"rule","color":"black","strokeWidth":2.5},"encoding":{"x":{"field":"t1","type":"quantitative","scale":{"domain":[0,16],"range":[176.7,376.7],"nice":false,"zero":false},"axis":null},"x2":{"field":"t2"},"y":{"field":"v","type":"quantitative","scale":{"domain":[-100,20],"range":[942.55,854.95],"nice":false,"zero":false},"axis":null}}},
 {"data":{"name":"f2lab"},"transform":[{"filter":"datum.trace==='recov' && datum.role==='name'"}],"mark":{"type":"text","align":"left","fontSize":11},"encoding":{"x":{"field":"t","type":"quantitative","scale":{"domain":[0,16],"range":[176.7,376.7],"nice":false,"zero":false},"axis":null},"y":{"field":"v","type":"quantitative","scale":{"domain":[-100,20],"range":[942.55,854.95],"nice":false,"zero":false},"axis":null},"text":{"field":"text"}}}
]},
{"layer":[
 {"data":{"name":"f2tr"},"transform":[{"filter":"datum.trace==='ctrlB'"}],"mark":{"type":"line","color":"black","strokeWidth":1.6},"encoding":{"x":{"field":"t","type":"quantitative","scale":{"domain":[0,18],"range":[468.3,678.9],"nice":false,"zero":false},"axis":null},"y":{"field":"v","type":"quantitative","scale":{"domain":[-100,20],"range":[713.85,626.25],"nice":false,"zero":false},"axis":null}}},
 {"data":{"name":"f2thick"},"transform":[{"filter":"datum.trace==='ctrlB'"}],"mark":{"type":"line","color":"black","strokeWidth":4,"strokeCap":"round"},"encoding":{"x":{"field":"t","type":"quantitative","scale":{"domain":[0,18],"range":[468.3,678.9],"nice":false,"zero":false},"axis":null},"y":{"field":"v","type":"quantitative","scale":{"domain":[-100,20],"range":[713.85,626.25],"nice":false,"zero":false},"axis":null}}},
 {"data":{"name":"f2burst"},"transform":[{"filter":"datum.trace==='ctrlB'"}],"mark":{"type":"rect","color":"black"},"encoding":{"x":{"field":"t1","type":"quantitative","scale":{"domain":[0,18],"range":[468.3,678.9],"nice":false,"zero":false},"axis":null},"x2":{"field":"t2"},"y":{"field":"v1","type":"quantitative","scale":{"domain":[-100,20],"range":[713.85,626.25],"nice":false,"zero":false},"axis":null},"y2":{"field":"v2"}}},
 {"data":{"name":"f2spk"},"transform":[{"filter":"datum.trace==='ctrlB'"}],"mark":{"type":"rule","color":"black","strokeWidth":0.8},"encoding":{"x":{"field":"t","type":"quantitative","scale":{"domain":[0,18],"range":[468.3,678.9],"nice":false,"zero":false},"axis":null},"y":{"field":"v1","type":"quantitative","scale":{"domain":[-100,20],"range":[713.85,626.25],"nice":false,"zero":false},"axis":null},"y2":{"field":"v2"}}},
 {"data":{"name":"f2open"},"transform":[{"filter":"datum.trace==='ctrlB'"}],"mark":{"type":"rect","fill":"white","stroke":"black","strokeWidth":1},"encoding":{"x":{"field":"t1","type":"quantitative","scale":{"domain":[0,18],"range":[468.3,678.9],"nice":false,"zero":false},"axis":null},"x2":{"field":"t2"},"y":{"field":"v1","type":"quantitative","scale":{"domain":[-100,20],"range":[713.85,626.25],"nice":false,"zero":false},"axis":null},"y2":{"field":"v2"}}},
 {"data":{"name":"f2sb"},"transform":[{"filter":"datum.trace==='ctrlB'"}],"mark":{"type":"rule","color":"black","strokeWidth":1},"encoding":{"x":{"field":"t1","type":"quantitative","scale":{"domain":[0,18],"range":[468.3,678.9],"nice":false,"zero":false},"axis":null},"x2":{"field":"t2"},"y":{"field":"v1","type":"quantitative","scale":{"domain":[-100,20],"range":[713.85,626.25],"nice":false,"zero":false},"axis":null},"y2":{"field":"v2"}}},
 {"data":{"name":"f2lab"},"transform":[{"filter":"datum.trace==='ctrlB' && datum.role==='name'"}],"mark":{"type":"text","align":"left","fontSize":11},"encoding":{"x":{"field":"t","type":"quantitative","scale":{"domain":[0,18],"range":[468.3,678.9],"nice":false,"zero":false},"axis":null},"y":{"field":"v","type":"quantitative","scale":{"domain":[-100,20],"range":[713.85,626.25],"nice":false,"zero":false},"axis":null},"text":{"field":"text"}}},
 {"data":{"name":"f2lab"},"transform":[{"filter":"datum.trace==='ctrlB' && (datum.role==='vm' || datum.role==='scaleV')"}],"mark":{"type":"text","align":"right","fontSize":11},"encoding":{"x":{"field":"t","type":"quantitative","scale":{"domain":[0,18],"range":[468.3,678.9],"nice":false,"zero":false},"axis":null},"y":{"field":"v","type":"quantitative","scale":{"domain":[-100,20],"range":[713.85,626.25],"nice":false,"zero":false},"axis":null},"text":{"field":"text"}}},
 {"data":{"name":"f2lab"},"transform":[{"filter":"datum.trace==='ctrlB' && datum.role==='scaleT'"}],"mark":{"type":"text","fontSize":11},"encoding":{"x":{"field":"t","type":"quantitative","scale":{"domain":[0,18],"range":[468.3,678.9],"nice":false,"zero":false},"axis":null},"y":{"field":"v","type":"quantitative","scale":{"domain":[-100,20],"range":[713.85,626.25],"nice":false,"zero":false},"axis":null},"text":{"field":"text"}}},
 {"data":{"name":"f2lab"},"transform":[{"filter":"datum.trace==='ctrlB' && datum.role==='panel'"}],"mark":{"type":"text","fontSize":11,"fontWeight":"bold"},"encoding":{"x":{"field":"t","type":"quantitative","scale":{"domain":[0,18],"range":[468.3,678.9],"nice":false,"zero":false},"axis":null},"y":{"field":"v","type":"quantitative","scale":{"domain":[-100,20],"range":[713.85,626.25],"nice":false,"zero":false},"axis":null},"text":{"field":"text"}}}
]},
{"layer":[
 {"data":{"name":"f2tr"},"transform":[{"filter":"datum.trace==='cnqx2'"}],"mark":{"type":"line","color":"black","strokeWidth":1.6},"encoding":{"x":{"field":"t","type":"quantitative","scale":{"domain":[0,18],"range":[468.3,678.9],"nice":false,"zero":false},"axis":null},"y":{"field":"v","type":"quantitative","scale":{"domain":[-100,20],"range":[791.55,703.95],"nice":false,"zero":false},"axis":null}}},
 {"data":{"name":"f2thick"},"transform":[{"filter":"datum.trace==='cnqx2'"}],"mark":{"type":"line","color":"black","strokeWidth":4,"strokeCap":"round"},"encoding":{"x":{"field":"t","type":"quantitative","scale":{"domain":[0,18],"range":[468.3,678.9],"nice":false,"zero":false},"axis":null},"y":{"field":"v","type":"quantitative","scale":{"domain":[-100,20],"range":[791.55,703.95],"nice":false,"zero":false},"axis":null}}},
 {"data":{"name":"f2burst"},"transform":[{"filter":"datum.trace==='cnqx2'"}],"mark":{"type":"rect","color":"black"},"encoding":{"x":{"field":"t1","type":"quantitative","scale":{"domain":[0,18],"range":[468.3,678.9],"nice":false,"zero":false},"axis":null},"x2":{"field":"t2"},"y":{"field":"v1","type":"quantitative","scale":{"domain":[-100,20],"range":[791.55,703.95],"nice":false,"zero":false},"axis":null},"y2":{"field":"v2"}}},
 {"data":{"name":"f2open"},"transform":[{"filter":"datum.trace==='cnqx2'"}],"mark":{"type":"rect","fill":"white","stroke":"black","strokeWidth":1},"encoding":{"x":{"field":"t1","type":"quantitative","scale":{"domain":[0,18],"range":[468.3,678.9],"nice":false,"zero":false},"axis":null},"x2":{"field":"t2"},"y":{"field":"v1","type":"quantitative","scale":{"domain":[-100,20],"range":[791.55,703.95],"nice":false,"zero":false},"axis":null},"y2":{"field":"v2"}}},
 {"data":{"name":"f2lab"},"transform":[{"filter":"datum.trace==='cnqx2' && datum.role==='name'"}],"mark":{"type":"text","align":"left","fontSize":11},"encoding":{"x":{"field":"t","type":"quantitative","scale":{"domain":[0,18],"range":[468.3,678.9],"nice":false,"zero":false},"axis":null},"y":{"field":"v","type":"quantitative","scale":{"domain":[-100,20],"range":[791.55,703.95],"nice":false,"zero":false},"axis":null},"text":{"field":"text"}}}
]},
{"data":{"name":"f2"},"layer":[
 {"mark":{"type":"line","color":"black","strokeWidth":1},"encoding":{
  "x":{"field":"conc","type":"quantitative","scale":{"type":"log","domain":[0.5,10],"range":[473.3,641.7],"nice":false},"axis":{"orient":"bottom","offset":-192,"values":[1,10],"format":"~g","labelFlush":false,"title":"[CNQX] μM","titleX":558,"titleY":25,"titleBaseline":"middle"}},
  "y":{"field":"pct","type":"quantitative","scale":{"domain":[0,80],"range":[964,806],"nice":false,"zero":false},"axis":{"orient":"left","offset":-473.3,"values":[0,20,40,60,80],"title":"% reduction","titleX":-25,"titleY":881,"titleBaseline":"middle","titleAngle":-90,"labelPadding":1}},
  "detail":{"field":"series"}}},
 {"transform":[{"filter":"datum.series==='quis'"}],"mark":{"type":"point","shape":"diamond","filled":true,"color":"black","opacity":1,"size":34},"encoding":{
  "x":{"field":"conc","type":"quantitative","scale":{"type":"log","domain":[0.5,10],"range":[473.3,641.7],"nice":false}},
  "y":{"field":"pct","type":"quantitative","scale":{"domain":[0,80],"range":[964,806],"nice":false,"zero":false}}}},
 {"transform":[{"filter":"datum.series==='nmda'"}],"mark":{"type":"point","shape":"triangle-up","filled":true,"color":"black","opacity":1,"size":26},"encoding":{
  "x":{"field":"conc","type":"quantitative","scale":{"type":"log","domain":[0.5,10],"range":[473.3,641.7],"nice":false}},
  "y":{"field":"pct","type":"quantitative","scale":{"domain":[0,80],"range":[964,806],"nice":false,"zero":false}}}}
]},
{"data":{"name":"cap2"},"layer":[
 {"transform":[{"filter":"datum.part==='head'"}],"mark":{"type":"text","align":"left","font":"Liberation Serif","fontSize":12.5,"fontWeight":"bold"},"encoding":{"x":{"datum":0,"type":"quantitative","scale":{"domain":[0,1],"range":[87,757]},"axis":null},"y":{"field":"line","type":"quantitative","scale":{"domain":[1,6],"range":[1007,1075],"nice":false,"zero":false},"axis":null},"text":{"field":"text"}}},
 {"transform":[{"filter":"datum.part==='body' && datum.line===1"}],"mark":{"type":"text","align":"left","font":"Liberation Serif","fontSize":12.5,"dx":50},"encoding":{"x":{"datum":0,"type":"quantitative","scale":{"domain":[0,1],"range":[87,757]},"axis":null},"y":{"field":"line","type":"quantitative","scale":{"domain":[1,6],"range":[1007,1075],"nice":false,"zero":false},"axis":null},"text":{"field":"text"}}},
 {"transform":[{"filter":"datum.part==='body' && datum.line>1"}],"mark":{"type":"text","align":"left","font":"Liberation Serif","fontSize":12.5},"encoding":{"x":{"datum":0,"type":"quantitative","scale":{"domain":[0,1],"range":[87,757]},"axis":null},"y":{"field":"line","type":"quantitative","scale":{"domain":[1,6],"range":[1007,1075],"nice":false,"zero":false},"axis":null},"text":{"field":"text"}}}
]}
],
"resolve":{"scale":{"x":"independent","y":"independent"},"axis":{"x":"independent","y":"independent"}}
}
